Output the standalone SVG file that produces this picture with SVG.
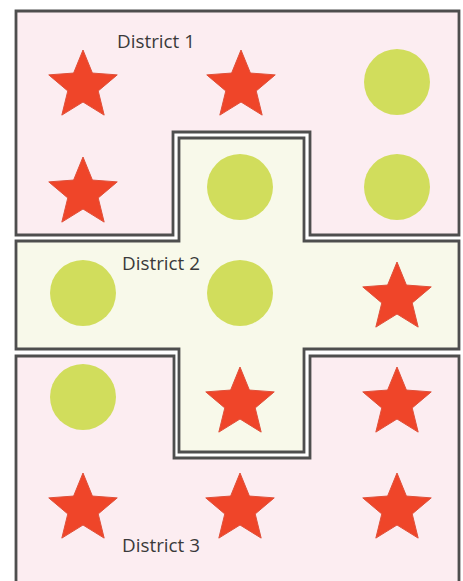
<svg xmlns="http://www.w3.org/2000/svg" xmlns:xlink="http://www.w3.org/1999/xlink" width="463" height="581" viewBox="0 0 463 581">
<style>
.d1,.d3{fill:#fcedf1;stroke:#4e4e4e;stroke-width:2.8;stroke-linejoin:miter}
.d2{fill:#f8f9ea;stroke:#4e4e4e;stroke-width:2.8;stroke-linejoin:miter}
.star{fill:#ef4529;stroke:#e0503a;stroke-width:1}
.dot{fill:#d1dd5c}
.lbl{font-family:"Open Sans","Liberation Sans",sans-serif;font-size:17.5px;fill:#3a3a3a}
</style>
<defs>
<path id="st" d="M0,-36 L9.4,-12.94 L34.24,-11.12 L15.22,4.94 L21.16,29.12 L0,16 L-21.16,29.12 L-15.22,4.94 L-34.24,-11.12 L-9.4,-12.94 Z"/>
</defs>
<rect x="0" y="0" width="463" height="581" fill="#ffffff"/>
<g id="district1">
<polygon class="d1" points="16,11 459,11 459,235 310,235 310,132 173,132 173,235 16,235"/>
<text class="lbl" x="117" y="48" textLength="78" lengthAdjust="spacingAndGlyphs">District 1</text>
</g>
<g id="district3">
<polygon class="d3" points="16,356 174,356 174,458 310,458 310,356 459,356 459,592 16,592"/>
<text class="lbl" x="122" y="552" textLength="78" lengthAdjust="spacingAndGlyphs">District 3</text>
</g>
<g id="district2">
<polygon class="d2" points="179,138 304,138 304,241 459,241 459,349 304,349 304,452 179,452 179,349 16,349 16,241 179,241"/>
<text class="lbl" x="122" y="270" textLength="78" lengthAdjust="spacingAndGlyphs">District 2</text>
</g>
<g id="star-r1c1"><use xlink:href="#st" class="star" x="83" y="86"/></g>
<g id="star-r1c2"><use xlink:href="#st" class="star" x="241" y="86"/></g>
<g id="circle-r1c3"><circle class="dot" cx="397" cy="82" r="33"/></g>
<g id="star-r2c1"><use xlink:href="#st" class="star" x="83" y="193"/></g>
<g id="circle-r2c2"><circle class="dot" cx="240" cy="187" r="33"/></g>
<g id="circle-r2c3"><circle class="dot" cx="397" cy="187" r="33"/></g>
<g id="circle-r3c1"><circle class="dot" cx="83" cy="293" r="33"/></g>
<g id="circle-r3c2"><circle class="dot" cx="240" cy="293" r="33"/></g>
<g id="star-r3c3"><use xlink:href="#st" class="star" x="397" y="298"/></g>
<g id="circle-r4c1"><circle class="dot" cx="83" cy="397" r="33"/></g>
<g id="star-r4c2"><use xlink:href="#st" class="star" x="240" y="403"/></g>
<g id="star-r4c3"><use xlink:href="#st" class="star" x="397" y="403"/></g>
<g id="star-r5c1"><use xlink:href="#st" class="star" x="83" y="509"/></g>
<g id="star-r5c2"><use xlink:href="#st" class="star" x="240" y="509"/></g>
<g id="star-r5c3"><use xlink:href="#st" class="star" x="397" y="509"/></g>
</svg>
